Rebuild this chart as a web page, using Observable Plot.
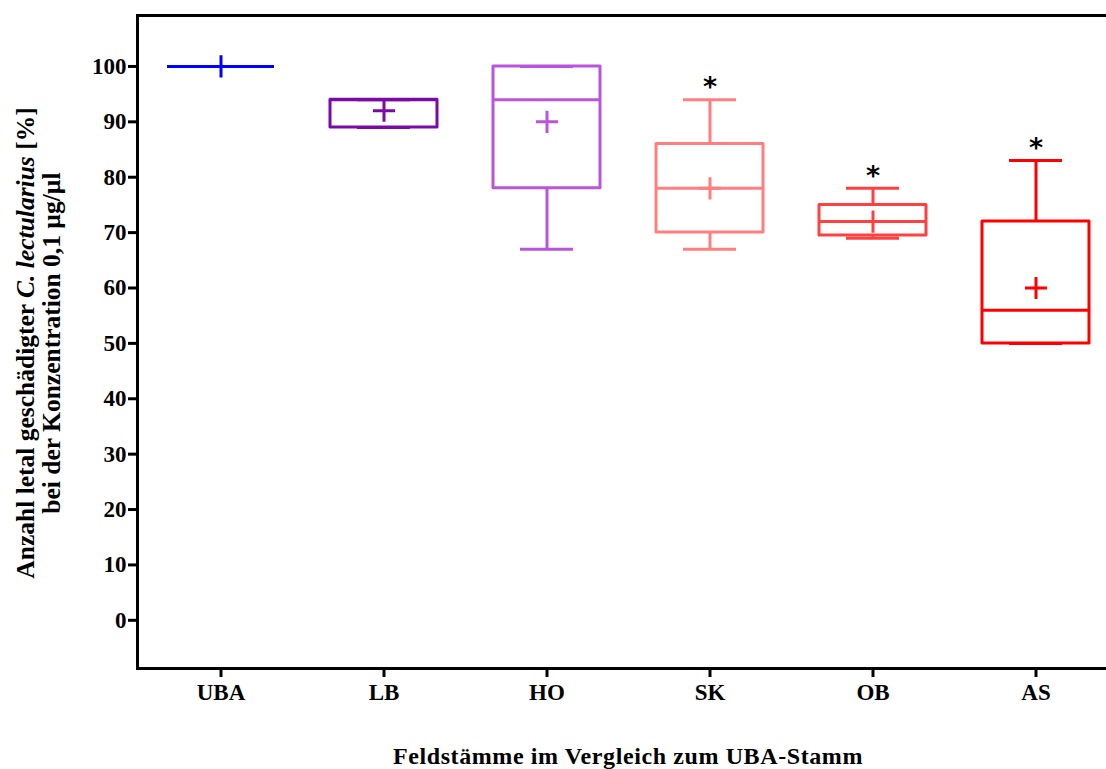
<!DOCTYPE html>
<html>
<head>
<meta charset="utf-8">
<script src="https://cdn.jsdelivr.net/npm/d3@7"></script>
<script src="https://cdn.jsdelivr.net/npm/@observablehq/plot@0.6"></script>
<style>
  html, body { margin: 0; padding: 0; background: #fff; overflow: hidden; }
  #chart svg { overflow: hidden; display: block; }
</style>
</head>
<body>
<div id="chart"></div>
<script>
// Field strains compared with the UBA reference strain
const strains   = ["UBA", "LB", "HO", "SK", "OB", "AS"];
const colors    = ["#0000ff", "#7a0aa8", "#b955dd", "#ff7f7f", "#ff4040", "#ff0000"];
// Box-plot statistics (% lethally affected C. lectularius at 0.1 µg/µl)
const minimum   = [100, 89, 67, 67, 69, 50];
const quartile1 = [100, 89, 78, 70, 69.5, 50];
const median    = [100, 94, 94, 78, 72, 56];
const quartile3 = [100, 94, 100, 86, 75, 72];
const maximum   = [100, 94, 100, 94, 78, 83];
const mean      = [100, 92, 90, 78, 72, 60];
// Significance markers
const significant = [false, false, false, true, true, true];
const yTicks = [0, 10, 20, 30, 40, 50, 60, 70, 80, 90, 100];

const rows = strains.map((s, i) => ({
  strain: s, color: colors[i], min: minimum[i], q1: quartile1[i], med: median[i],
  q3: quartile3[i], max: maximum[i], mean: mean[i], sig: significant[i]
}));

const serif = "'Liberation Serif', 'DejaVu Serif', serif";
const W = 1106, H = 769;
const lw = 3;

// The plotting area runs past the right edge of the page: only its top, bottom and left borders are drawn.
const chart = Plot.plot({
  width: W,
  height: H,
  marginLeft: 137,
  marginTop: 15,
  marginBottom: 101,
  marginRight: -13,
  style: { fontFamily: serif, fontWeight: "bold", fontSize: "23px", background: "#fff" },
  x: { domain: strains, padding: 0, label: null, tickSize: 9, tickPadding: 6 },
  y: { domain: [-8.7, 109.2], ticks: yTicks, label: null, tickSize: 9, tickPadding: 2 },
  color: { domain: strains, range: colors },
  marks: [
    Plot.frame({ anchor: "top", stroke: "#000", strokeWidth: lw }),
    Plot.frame({ anchor: "bottom", stroke: "#000", strokeWidth: lw }),
    Plot.frame({ anchor: "left", stroke: "#000", strokeWidth: lw, strokeLinecap: "square" }),
    Plot.axisY({ ticks: yTicks, tickSize: 9, tickPadding: 2, strokeWidth: lw, label: null, fontSize: 23 }),
    Plot.axisX({ tickSize: 9, tickPadding: 6, strokeWidth: lw, label: null, fontSize: 23 }),
    // whiskers
    Plot.ruleX(rows, { x: "strain", y1: "q3", y2: "max", stroke: "strain", strokeWidth: lw }),
    Plot.ruleX(rows, { x: "strain", y1: "min", y2: "q1", stroke: "strain", strokeWidth: lw }),
    Plot.tickY(rows, { x: "strain", y: "max", stroke: "strain", strokeWidth: lw, inset: 55 }),
    Plot.tickY(rows, { x: "strain", y: "min", stroke: "strain", strokeWidth: lw, inset: 55 }),
    // boxes
    Plot.barY(rows, { x: "strain", y1: "q1", y2: "q3", fill: "none", stroke: "strain", strokeWidth: lw, insetLeft: 28, insetRight: 28, strokeLinejoin: "round" }),
    Plot.tickY(rows, { x: "strain", y: "med", stroke: "strain", strokeWidth: lw, inset: 28 }),
    // means
    Plot.dot(rows, { x: "strain", y: "mean", symbol: "plus", r: 7.2, stroke: "strain", strokeWidth: lw }),
    // significance asterisks
    Plot.text(rows.filter(d => d.sig), { x: "strain", y: "max", text: () => "*", dy: -12, fontSize: 27, fontFamily: "'DejaVu Sans', sans-serif", fontWeight: "bold", fill: "#000" })
  ]
});

chart.querySelectorAll("[aria-label='y-axis tick label'] text, [aria-label='x-axis tick label'] text").forEach(t => t.setAttribute("fill", "#000"));

const svg = d3.select(chart);
// y-axis title (two rotated lines, species name in italics)
const yTitle = svg.append("text")
  .attr("transform", "translate(34,343) rotate(-90)")
  .attr("text-anchor", "middle")
  .attr("font-family", serif)
  .attr("font-weight", "bold")
  .attr("font-size", 25.5)
  .attr("fill", "#000");
yTitle.append("tspan").text("Anzahl letal geschädigter ");
yTitle.append("tspan").attr("font-style", "italic").text("C. lectularius");
yTitle.append("tspan").text(" [%]");

svg.append("text")
  .attr("transform", "translate(60,343) rotate(-90)")
  .attr("text-anchor", "middle")
  .attr("font-family", serif)
  .attr("font-weight", "bold")
  .attr("font-size", 25.5)
  .attr("fill", "#000")
  .text("bei der Konzentration 0,1 µg/µl");

// x-axis title
svg.append("text")
  .attr("x", 628)
  .attr("y", 764)
  .attr("text-anchor", "middle")
  .attr("font-family", serif)
  .attr("font-weight", "bold")
  .attr("font-size", 24)
  .attr("letter-spacing", 0.6)
  .attr("fill", "#000")
  .text("Feldstämme im Vergleich zum UBA-Stamm");

document.getElementById("chart").appendChild(chart);
</script>
</body>
</html>
